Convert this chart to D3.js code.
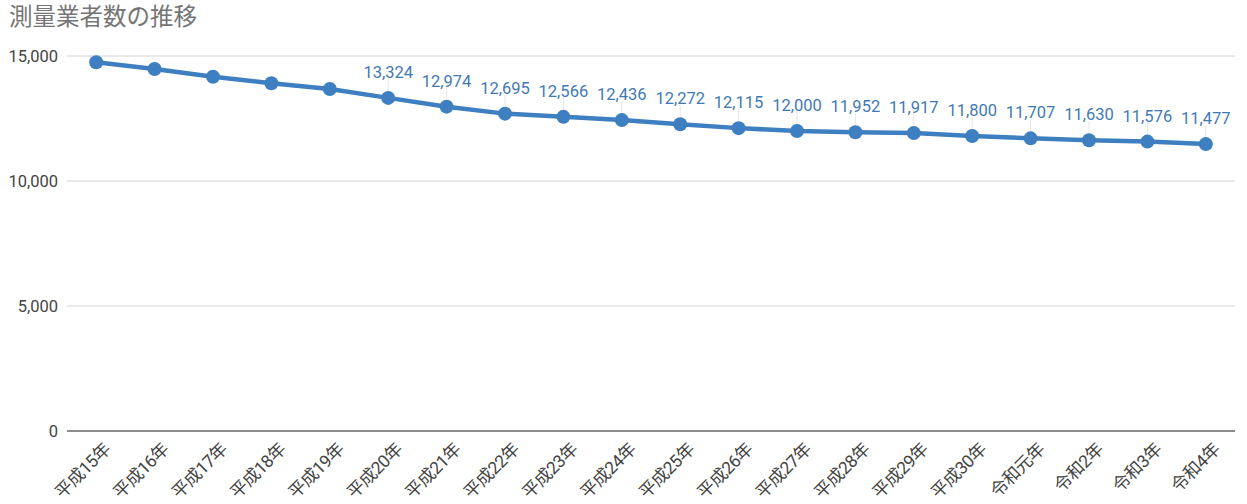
<!DOCTYPE html>
<html><head><meta charset="utf-8">
<script src="https://cdn.jsdelivr.net/npm/d3@7"></script>
<style>body{margin:0;background:#fff;}svg{display:block;}</style>
</head><body>
<svg id="c" width="1247" height="504"></svg>
<script>
const title = "測量業者数の推移";
const categories = ["平成15年","平成16年","平成17年","平成18年","平成19年","平成20年","平成21年","平成22年","平成23年","平成24年","平成25年","平成26年","平成27年","平成28年","平成29年","平成30年","令和元年","令和2年","令和3年","令和4年"];
const values = [14750,14480,14170,13910,13680,13324,12974,12695,12566,12436,12272,12115,12000,11952,11917,11800,11707,11630,11576,11477];
const showLabel = [false,false,false,false,false,true,true,true,true,true,true,true,true,true,true,true,true,true,true,true];
const yTicks = [0,5000,10000,15000];

const svg = d3.select("#c");
const m = {l:67, r:1235, t:56, b:431};
const x = d3.scaleBand().domain(categories).range([m.l, m.r]);
const y = d3.scaleLinear().domain([0,15000]).range([m.b, m.t]);
const font = "Roboto, 'Noto Sans CJK JP', sans-serif";
const blue = "#3d7fc1";

svg.append("text").attr("x",9).attr("y",25).attr("font-family",font)
  .attr("font-size",23.5).attr("fill","#757575").text(title);

const g = svg.append("g");
g.selectAll("line.grid").data(yTicks).join("line")
  .attr("x1",m.l).attr("x2",m.r).attr("y1",d=>y(d)).attr("y2",d=>y(d))
  .attr("stroke",d=>d===0?"#666":"#d4d4d4").attr("stroke-width",d=>d===0?1.5:1);
g.selectAll("text.yt").data(yTicks).join("text")
  .attr("x",58).attr("y",d=>y(d)).attr("dy","0.35em").attr("text-anchor","end")
  .attr("font-family",font).attr("font-size",16.5).attr("fill","#444")
  .text(d=>d3.format(",")(d));

const cx = d => x(d) + x.bandwidth()/2;
g.selectAll("text.xt").data(categories).join("text")
  .attr("transform",d=>`translate(${cx(d)+6},${441}) rotate(-45)`)
  .attr("text-anchor","end").attr("dy","0.75em")
  .attr("font-family",font).attr("font-size",17.5).attr("fill","#444")
  .attr("letter-spacing",-0.5)
  .text(d=>d);

const pts = categories.map((c,i)=>({c, v:values[i], s:showLabel[i]}));
g.selectAll("line.lead").data(pts.filter(p=>p.s)).join("line")
  .attr("x1",p=>cx(p.c)).attr("x2",p=>cx(p.c))
  .attr("y1",p=>y(p.v)-19).attr("y2",p=>y(p.v)-7)
  .attr("stroke","#e6e6e6").attr("stroke-width",1);

g.append("path").datum(pts)
  .attr("d",d3.line().x(p=>cx(p.c)).y(p=>y(p.v)))
  .attr("fill","none").attr("stroke",blue).attr("stroke-width",4.5).attr("stroke-linejoin","round");
g.selectAll("circle").data(pts).join("circle")
  .attr("cx",p=>cx(p.c)).attr("cy",p=>y(p.v)).attr("r",7).attr("fill",blue);

g.selectAll("text.lbl").data(pts.filter(p=>p.s)).join("text")
  .attr("x",p=>cx(p.c)).attr("y",p=>y(p.v)-20).attr("text-anchor","middle")
  .attr("font-family",font).attr("font-size",16.5).attr("fill","#3f7ab3")
  .text(p=>d3.format(",")(p.v));
</script>
</body></html>
